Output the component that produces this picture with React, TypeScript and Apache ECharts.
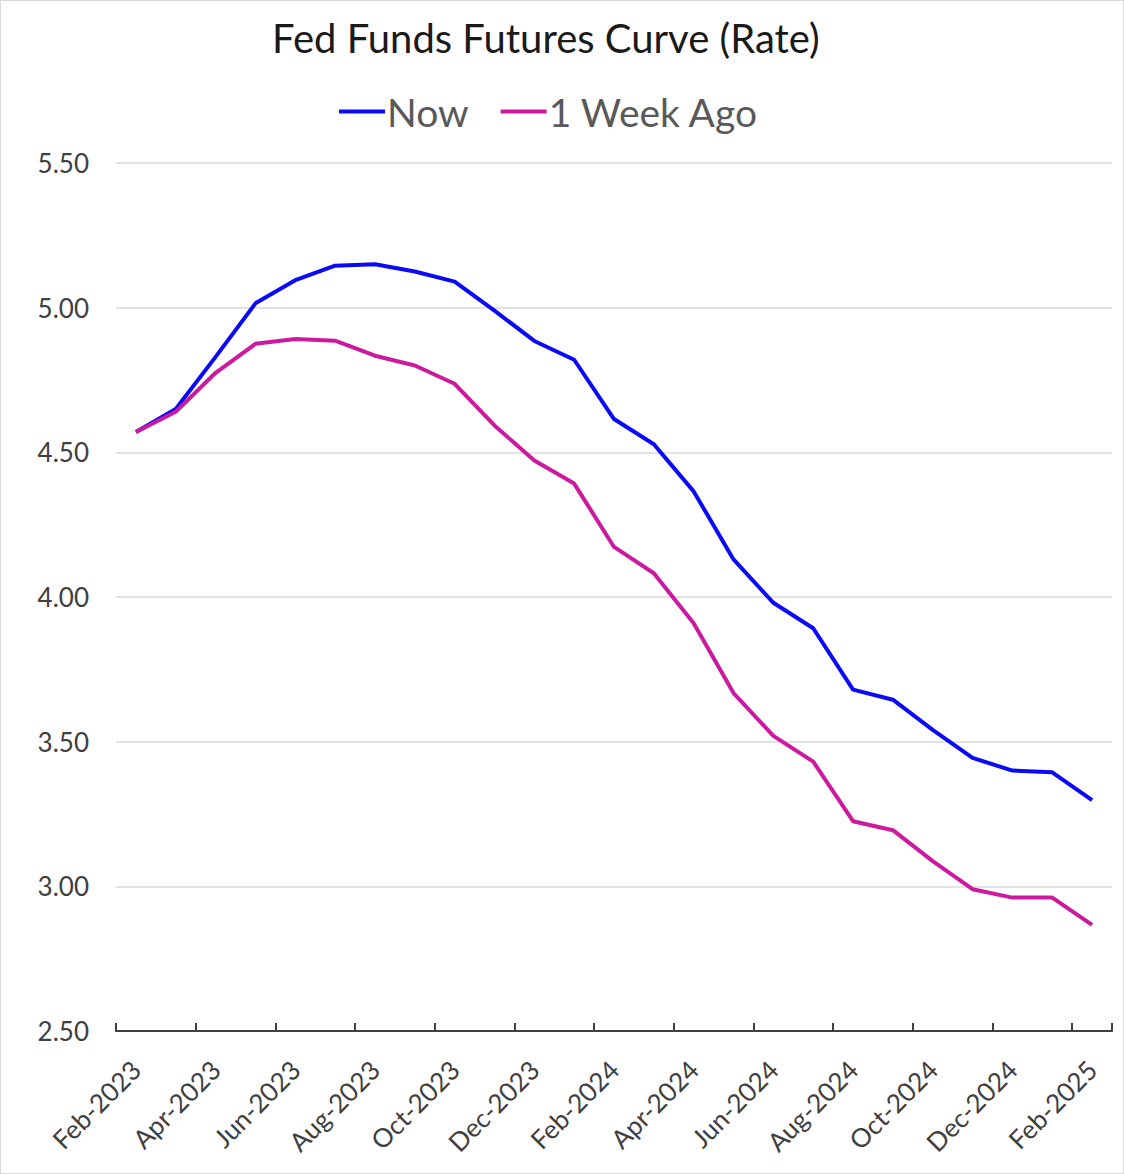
import React, { useEffect, useRef } from "react";
import * as echarts from "echarts";

const categories = [
  "Feb-2023", "Mar-2023", "Apr-2023", "May-2023", "Jun-2023", "Jul-2023", "Aug-2023",
  "Sep-2023", "Oct-2023", "Nov-2023", "Dec-2023", "Jan-2024", "Feb-2024", "Mar-2024",
  "Apr-2024", "May-2024", "Jun-2024", "Jul-2024", "Aug-2024", "Sep-2024", "Oct-2024",
  "Nov-2024", "Dec-2024", "Jan-2025", "Feb-2025",
];

const nowValues = [
  4.57, 4.65, 4.83, 5.015, 5.095, 5.145, 5.15, 5.125, 5.09, 4.99, 4.885, 4.82, 4.615,
  4.528, 4.365, 4.13, 3.98, 3.892, 3.68, 3.645, 3.541, 3.444, 3.4, 3.394, 3.298,
];

const weekAgoValues = [
  4.57, 4.64, 4.775, 4.875, 4.892, 4.886, 4.834, 4.8, 4.737, 4.593, 4.472, 4.392, 4.173,
  4.082, 3.909, 3.668, 3.52, 3.431, 3.225, 3.194, 3.087, 2.99, 2.961, 2.961, 2.867,
];

const seriesNames = ["Now", "1 Week Ago"];
const yMin = 2.5;
const yMax = 5.5;
const yInterval = 0.5;

const FONT = "Lato, 'Open Sans', sans-serif";

export default function App() {
  const ref = useRef<HTMLDivElement>(null);

  useEffect(() => {
    document.body.style.margin = "0";
    if (!ref.current) return;
    const chart = echarts.init(ref.current, undefined, { renderer: "svg" });
    chart.setOption({
      animation: false,
      backgroundColor: "#ffffff",
      title: {
        text: "Fed Funds Futures Curve (Rate)",
        left: 266,
        top: 12,
        textStyle: { fontFamily: FONT, fontSize: 40, fontWeight: "normal", color: "#1a1a1a" },
      },
      legend: {
        top: 86,
        left: 333,
        icon: "rect",
        itemWidth: 46,
        itemHeight: 4,
        itemGap: 32,
        textStyle: { fontFamily: FONT, fontSize: 39, color: "#595959", padding: [0, 0, 0, -3] },
        data: seriesNames,
      },
      grid: { left: 115, right: 11, top: 162, bottom: 142, containLabel: false },
      xAxis: {
        type: "category",
        data: categories,
        boundaryGap: true,
        axisLine: { lineStyle: { color: "#404040", width: 2 } },
        axisTick: { show: true, inside: true, length: 8, interval: 1, lineStyle: { color: "#404040", width: 2 } },
        axisLabel: {
          interval: 1,
          rotate: 45,
          fontFamily: FONT,
          fontSize: 26,
          color: "#404040",
          margin: 34,
        },
        splitLine: { show: false },
      },
      yAxis: {
        type: "value",
        min: yMin,
        max: yMax,
        interval: yInterval,
        axisLine: { show: false },
        axisTick: { show: false },
        axisLabel: {
          fontFamily: FONT,
          fontSize: 26,
          color: "#404040",
          margin: 27,
          formatter: (v: number) => v.toFixed(2),
        },
        splitLine: { lineStyle: { color: "#d9d9d9", width: 1.5 } },
      },
      series: [
        {
          name: seriesNames[0],
          type: "line",
          data: nowValues,
          symbol: "none",
          lineStyle: { color: "#0a0af5", width: 4 },
          itemStyle: { color: "#0a0af5" },
        },
        {
          name: seriesNames[1],
          type: "line",
          data: weekAgoValues,
          symbol: "none",
          lineStyle: { color: "#cc1a9e", width: 4 },
          itemStyle: { color: "#cc1a9e" },
        },
      ],
    });
    return () => chart.dispose();
  }, []);

  return (
    <div
      ref={ref}
      style={{ width: 1124, height: 1174, boxSizing: "border-box", border: "1px solid #d9d9d9" }}
    />
  );
}
